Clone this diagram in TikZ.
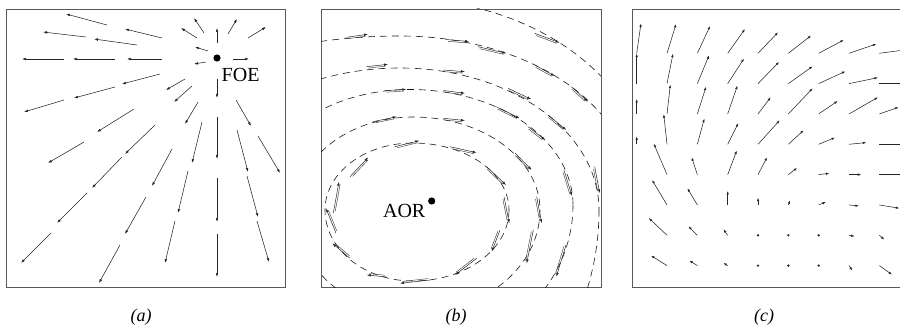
\documentclass[tikz,border=0pt]{standalone}
\usepackage{fontspec}
\setmainfont{Liberation Serif}
\usetikzlibrary{arrows.meta,calc}
\begin{document}
\begin{tikzpicture}[x=1pt,y=-1pt,
  frame/.style={draw=black!65,line width=0.8pt},
  va/.style={line width=0.55pt,draw=black!85,-{Latex[length=4pt,width=2.6pt]}},
  vb/.style={line width=0.5pt,draw=black!85,-{Latex[length=4pt,width=2.6pt]}},
  vbb/.style={line width=0.45pt,draw=black!75,shorten <=2pt,shorten >=2.5pt},
  vc/.style={line width=0.55pt,draw=black!85,-{Latex[length=3.5pt,width=2.4pt]}},
  curve/.style={line width=0.6pt,draw=black!90,dash pattern=on 7pt off 5pt},
  lab/.style={font=\fontsize{20}{24}\selectfont,inner sep=0pt},
  captext/.style={font=\fontsize{18}{22}\selectfont\itshape,inner sep=0pt}]
\useasboundingbox (0,0) rectangle (900,334);

% ---------------- panel (a) ----------------
\draw[frame] (6,9) rectangle (285,287);
\foreach \tx/\ty/\hx/\hy in {107/25/66/14, 162/38/125/29, 86/37/43/32, 137/45/94/39,
  64/59/22/59, 115/59/73/59, 162/59/127/59, 204/33/194/18, 217/43/217/28,
  228/34/237/19, 248/38/266/27, 197/38/181/28, 208/51/195/47, 206/62/194/64,
  233/59/249/59, 217/79/217/98, 160/74/122/84, 115/87/74/98, 64/100/24/112,
  185/79/166/90, 192/86/174/102, 134/109/97/132, 84/142/48/163, 198/102/185/124,
  236/100/251/126, 155/125/125/154, 122/157/92/188, 87/193/57/223, 51/233/21/263,
  146/197/125/234, 120/245/99/283, 202/122/192/163, 217/117/217/159,
  237/130/248/172, 258/136/280/173, 172/149/152/186, 188/171/178/213,
  175/221/165/263, 217/178/217/222, 217/234/217/277, 247/176/258/217, 257/221/269/262}
  \draw[va] (\tx,\ty) -- (\hx,\hy);
\fill (217,58) circle (3.6);
\node[lab,anchor=base west] (foe) at (221.5,81.5) {FOE};
\node[captext] (capa) at (141,317) {(a)};

% ---------------- panel (b) ----------------
\draw[frame] (321,9) rectangle (601,287);
\begin{scope}
\clip (321,9) rectangle (601,287);
% cx, cy, right, bottom, left, top radii
\foreach \cx/\cy/\rR/\rB/\rL/\rT in {413/210/96/71/88/67, 413/210/127/103.6/117.6/93,
  410/205/163/149/156/115.5, 400/210/199/232/205/142, 400/190/231/300/300/154,
  400/190/250/300/300/191.3}
  \draw[curve] ({\cx+\rR},\cy)
     arc[start angle=0,end angle=90,x radius=\rR,y radius=\rB]
     arc[start angle=90,end angle=180,x radius=\rL,y radius=\rB]
     arc[start angle=180,end angle=270,x radius=\rL,y radius=\rT]
     arc[start angle=270,end angle=360,x radius=\rR,y radius=\rT] -- cycle;
\end{scope}
\foreach \tx/\ty/\hx/\hy in {
  394.7/146.7/419.3/140.7, 450/146.7/476.7/152.7, 486.7/166.7/506/185,
  504/196.7/509.3/223.3, 500/230/491.7/251.7, 476.7/258.3/455/275,
  430/280/400/283.3, 386.7/277/366.7/275, 350/258.3/332.3/243.3,
  336/233.3/326/208.3, 333.3/213/339/181.7, 350/176.7/368.3/157.3,
  373/121.7/396.7/116.7, 443.3/118.3/465/120.5, 515/153/531.7/170,
  536.7/196.7/541.7/223.3, 533.3/230/526.7/263.3,
  384.7/90.7/406.3/89.3, 443.3/90.5/465/93.3, 496.3/106.7/519.7/118.3,
  528/126.7/545.3/140, 564/170/572/196, 566/245/556.3/276.7,
  366.3/66.7/388/64.3, 443.3/70/465/71.7, 508/88.3/531.3/99.3,
  548/115/566.3/130, 594.7/166.7/599.7/193.3,
  346.3/37.3/368/34.3, 446/39.5/469/41.5, 478/46.7/506.3/53.3,
  534.7/65/554.7/76, 571.3/86.7/588/101.7,
  534.7/33.3/559.7/42.7}
{
  \draw[vb] (\tx,\ty) -- (\hx,\hy);
  \draw[vbb] ($(\tx,\ty)!1.6pt!-90:(\hx,\hy)$) -- ($(\hx,\hy)!1.6pt!90:(\tx,\ty)$);
}
\fill (431.7,201) circle (3.6);
\node[lab,anchor=base east] (aor) at (425.5,218) {AOR};
\node[captext] (capb) at (456,317) {(b)};

% ---------------- panel (c) ----------------
\draw[frame] (905,9) -- (632,9) -- (632,287) -- (905,287);
\foreach \i/\j/\dx/\dy in {
  0/0/4.3/-30, 0/1/0/-30, 0/2/0/-15, 0/3/0/-8,
  1/0/9/-29.3, 1/1/6/-30, 1/2/3.3/-29.3, 1/3/-3.3/-30, 1/4/-13.3/-31, 1/5/-15/-25, 1/6/-18.3/-17.3, 1/7/-16/-10,
  2/0/12.7/-27.3, 2/1/11.7/-28.3, 2/2/8.7/-27.3, 2/3/7/-25.7, 2/4/-5.7/-17.3, 2/5/-10/-16.7, 2/6/-9/-9, 2/7/-8/-5,
  3/0/17.3/-24.3, 3/1/16.3/-25, 3/2/9.7/-28.3, 3/3/10.7/-21.3, 3/4/9/-24, 3/5/0/-14, 3/6/-4.3/-6, 3/7/-4.3/-2.7,
  4/0/20/-21, 4/1/21/-21.7, 4/2/12.7/-16.7, 4/3/21.7/-24, 4/4/9/-17.3, 4/5/0/-7.3,
  5/0/22.7/-17.7, 5/1/24.3/-17.3, 5/2/24.3/-25.7, 5/3/15.3/-14, 5/4/8.7/-6.7, 5/5/1.7/-4.7,
  6/0/25/-13.3, 6/1/26.7/-12.3, 6/2/19/-13, 6/3/16.3/-6.7, 6/4/10.7/-1.3, 6/5/7.3/-3,
  7/0/27.3/-9.3, 7/1/29/-6, 7/2/29/-16.7, 7/3/17.3/-1.7, 7/4/12.3/0, 7/5/10/1, 7/6/5.7/1, 7/7/3.3/5,
  8/0/30/-4, 8/1/30/0, 8/2/19.3/-6.7, 8/3/28/0, 8/4/28/0, 8/5/20/3.3, 8/6/5/4.3, 8/7/12.7/9}
  \draw[vc] ({636.7+30.33*\i},{53.3+30.33*\j}) -- ++(\dx,\dy);
\foreach \i/\j in {4/6, 5/6, 6/6, 4/7, 5/7, 6/7}
  \fill[black!85] ({636.7+30.33*\i},{53.3+30.33*\j}) circle (1.3);
\node[captext] (capc) at (764,317) {(c)};
\end{tikzpicture}
\end{document}
